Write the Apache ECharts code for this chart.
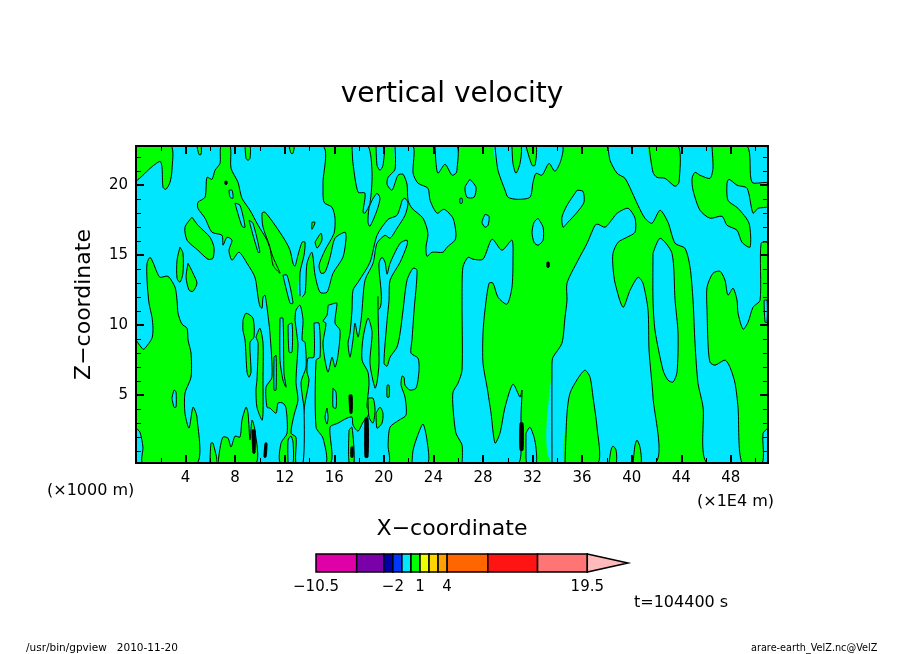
<!DOCTYPE html>
<html>
<head>
<meta charset="utf-8">
<title>vertical velocity</title>
<script src="https://cdn.jsdelivr.net/npm/echarts@6/dist/echarts.min.js"></script>
<style>
  html, body { margin: 0; padding: 0; background: #fff; }
  #chart { width: 904px; height: 654px; }
</style>
</head>
<body>
<div id="chart"></div>
<script>
// contour outlines of the zero line: [x (1E4 m), z (1000 m)]
const plotBox = [[0,0.15],[51,0.15],[51,22.8],[0,22.8]];
const cyanMain = [[0,22.8],[15.01,22.8],[15.09,20.14],[15.17,18.78],[15.82,18.42],[16.06,17.64],[15.98,16.56],[15.25,15.35],[14.77,14.28],[14.93,13.71],[15.25,13.78],[15.66,14.85],[16.06,16.21],[16.87,16.64],[16.95,16.21],[16.7,14.85],[15.9,13.71],[15.41,12.35],[14.85,12.35],[14.45,13.57],[14.2,15.21],[13.8,14.42],[13.64,12.28],[13.24,11.78],[13.24,0.15],[0,0.15]];
const greenCorner = [[0,20.28],[0.56,20.71],[1.13,21.2],[1.94,21.7],[2.1,21.28],[2.18,19.85],[2.42,19.71],[2.74,20.2],[2.9,21.06],[2.82,22.8],[0,22.8]];
const greenBand = [[0,8.93],[0.56,8.28],[0.73,8.35],[1.29,9.07],[1.37,9.78],[1.29,10.57],[1.05,11.57],[0.89,13.21],[0.89,14.42],[1.13,14.85],[1.37,14.49],[1.69,13.78],[1.94,13.42],[2.58,13.49],[3.15,12.71],[3.31,11.78],[3.39,10.85],[3.71,10.07],[4.12,9.78],[4.2,8.93],[4.44,8],[4.44,6.28],[3.95,5.14],[3.95,3.71],[4.28,2.64],[4.6,4.14],[4.92,3.43],[4.92,0.15],[0.56,0.15],[0.56,1.29],[0.32,2.36],[0,2.71]];
const bandSlit = [[2.9,4.78],[3.07,5.36],[3.23,5.21],[3.23,4.14],[3.07,4.14]];
const islandA = [[3.55,15.57],[3.79,15.14],[3.79,13.71],[3.55,13.07],[3.31,13.35],[3.31,14.64]];
const islandB = [[4.2,14.42],[4.6,13.71],[4.92,13],[4.6,12.42],[4.28,12.5],[4.04,13.42]];
const islandC = [[4.52,17.71],[5,17.14],[5.97,16.28],[6.29,15.57],[6.21,14.78],[5.81,14.71],[5,15.35],[4.12,16.07],[3.95,17]];
const islandD = [[8.63,10.35],[8.88,10.85],[9.44,10.5],[9.52,9.14],[9.2,8.78],[9.28,6.64],[9.12,6.28],[8.96,6.64],[8.8,8.93],[8.63,9.64]];
const islandE = [[9.68,9.14],[10,9.78],[10.25,8.71],[10.25,6.07],[10.25,3.71],[10.17,3.21],[9.76,4.14],[9.68,5.36],[9.76,6.07],[9.85,8.71]];
const tabA = [[4.92,22.8],[5.08,22.2],[5.25,22.2],[5.25,22.8]];
const tabB = [[8.8,22.8],[8.88,21.92],[9.04,21.78],[9.2,21.92],[9.2,22.8]];
const tabC = [[12.35,22.8],[12.51,22.28],[12.67,22.28],[12.75,22.8]];
const humpA = [[5.97,0.15],[6.05,1.57],[6.21,1.57],[6.54,0.15]];
const humpB = [[6.62,0.15],[6.78,1.21],[7.02,2],[7.42,1.93],[7.67,1.29],[7.99,2.07],[8.39,2],[8.55,3.21],[8.88,4.14],[9.04,3.71],[9.2,1.79],[9.36,3.21],[9.6,2.5],[9.68,0.15]];
const cyanMid = [[13.24,0.15],[13.24,11.07],[19.53,11.07],[19.61,14.42],[19.85,14.85],[20.1,14.49],[20.26,13.64],[20.5,14.42],[21.31,15.85],[21.87,16.07],[21.87,15.71],[21.31,14.49],[20.5,13.21],[20.42,11.78],[20.26,10.35],[20.01,7.28],[20.26,7.07],[20.5,7.71],[21.06,8.43],[21.31,9.43],[21.55,11.07],[21.87,13.21],[22.36,14.07],[22.68,13.93],[22.44,11.07],[22.27,8.93],[22.19,8],[22.76,7.64],[22.84,6.78],[22.6,5.5],[22.11,5.36],[21.71,5.71],[21.63,6.28],[21.47,6.36],[21.39,5.71],[21.71,4.86],[21.79,3.57],[21.22,3.21],[20.5,2.71],[20.34,1.43],[20.34,0.15]];
const cyanFoot = [[22.27,0.15],[22.36,1.07],[22.68,2],[23.16,2.93],[23.48,1.79],[23.56,0.15]];
const greenCentre = [[19.53,12.07],[19.53,11.07],[19.61,7.28],[19.45,5.93],[19.29,5.5],[18.88,7.28],[19.05,9.5],[18.72,10.5],[18.32,9.07],[18.24,7.5],[18.72,6.64],[18.8,5.71],[18.64,4.14],[18.88,3.78],[18.64,3.43],[18.32,3.07],[17.92,2.43],[17.51,2.86],[17.43,3.43],[17.03,3.36],[16.3,3],[15.66,2.71],[15.66,0.15],[11.7,0.15],[11.7,1.57],[12.19,2.28],[12.11,4.07],[11.86,4.43],[11.46,4.43],[11.3,3.71],[10.81,4.07],[10.57,4.14],[10.49,5.57],[10.97,6.28],[10.81,9.43],[10.57,11.28],[10.49,11.78],[10.41,12.14],[10.25,12],[10.17,11.21],[10,11.35],[9.85,12],[9.6,13.42],[8.96,14.42],[8.31,15.21],[7.75,14.64],[7.5,15.35],[7.75,16.07],[7.34,16.28],[7.02,15.71],[6.94,16.42],[6.13,16.64],[5.57,17.64],[5,18.35],[5,18.78],[5.57,19.14],[5.73,20.56],[6.13,20.42],[6.38,21.07],[6.78,21.56],[6.86,22.8],[7.59,22.8],[7.67,21.21],[8.23,20.21],[8.55,19.07],[9.2,18.21],[9.85,17.14],[10.57,16.07],[11.06,14.85],[11.46,14.07],[11.62,13.71],[11.06,14.28],[10.81,15.57],[10.25,17],[10.17,18],[10.41,18.07],[11.22,17.14],[12.02,16.07],[12.43,15.35],[12.67,14.42],[12.83,14.21],[13.07,15],[13.4,15.93],[13.64,15.93],[13.56,15],[13.24,13.78],[13.24,12.07]];
const lobeA = [[15.5,11.42],[16.06,11.57],[16.22,11.57],[16.06,10.14],[16.46,9.64],[16.3,7.85],[16.06,7],[15.82,7.71],[15.5,6.64],[15.25,7.5],[15.09,8.71],[15.33,10.14],[15.09,10.28],[15.41,10.71]];
const lobeB = [[21.47,18.92],[21.06,17.85],[20.34,17.56],[19.45,16.42],[18.88,14.49],[17.92,13.07],[17.51,12.5],[17.43,11.07],[17.27,9.43],[17.11,8.71],[17.27,7.71],[17.51,8.93],[17.67,10.14],[17.92,9.14],[18.16,10.35],[18.24,11.07],[18.48,13.21],[19.13,14.42],[19.45,15.85],[20.1,16.42],[20.5,16.21],[21.06,16.92],[21.71,17.85],[21.95,18.71],[21.71,19.07]];
const slotA = [[14.36,10.14],[14.77,10.14],[14.85,7.71],[14.53,7.5],[14.53,2.71],[15.09,1.93],[15.33,0.15],[13.48,0.15],[13.56,3.93],[13.96,6.07],[13.8,6.64],[13.88,7.64],[14.36,7.71]];
const slotB = [[12.83,10.35],[12.91,11.07],[13.24,11.42],[13.48,10.35],[13.4,8.93],[13.64,8.78],[13.72,7],[13.32,5.93],[13.56,3.93],[13.48,0.15],[12.91,0.15],[12.91,2],[12.51,2.28],[12.75,3.57],[13.07,4.64],[12.91,5.93],[13.07,8.57],[12.99,9.28]];
const slits = [
  [[11.62,10.5],[11.86,10.5],[11.94,6.57],[12.11,5.57],[11.86,6.07],[11.62,7.5]],
  [[12.27,10],[12.59,10.14],[12.59,8.07],[12.35,8.07]],
  [[11.14,7.71],[11.3,7.85],[11.3,5.36],[11.14,5.36]],
  [[11.86,13.57],[12.19,13.57],[12.67,11.57],[12.43,11.57]],
  [[7.99,18.71],[8.39,18.57],[8.8,17],[8.55,17.07]],
  [[9.12,17.49],[9.44,17.28],[10,15.21],[9.85,15.21]],
  [[7.5,19.64],[7.75,19.64],[7.83,19.07],[7.59,19.14]],
  [[12.27,0.15],[12.27,1.79],[12.51,2.07],[12.67,1.64],[12.67,0.15]],
  [[15.41,4.07],[15.5,3.43],[15.41,2.93],[15.25,3.43]],
  [[15.9,5.5],[16.14,5.21],[16.14,4.07],[15.9,4.14]]
];
const specks = [
  [[18.72,4.78],[19.13,4.78],[19.29,3.93],[19.13,3],[18.8,3.43]],
  [[19.37,3.71],[19.69,4.14],[19.93,3.71],[19.85,3],[19.45,2.64]],
  [[20.26,5.71],[20.42,5.71],[20.42,4.86],[20.26,4.86]],
  [[17.19,2.5],[17.43,2.71],[17.6,0.21],[17.19,0.21]],
  [[14.2,17.35],[14.45,17.35],[14.2,16.85]],
  [[14.45,15.93],[14.93,16.57],[15,16.07],[14.61,15.5]]
];
const fingerA = [[17.43,22.8],[17.51,21.56],[17.92,19.5],[18.48,19.43],[18.32,18.07],[18.48,18],[18.88,18.71],[19.05,20.85],[18.72,22.8]];
const fingerB = [[19.37,22.8],[19.45,21.42],[19.69,21.06],[19.93,21.42],[20.01,22.8]];
const fingerC = [[24.13,22.8],[24.21,21.56],[24.37,20.85],[24.94,21.49],[25.5,20.71],[25.82,20.85],[25.9,21.06],[25.9,22.8]];
const cyanArm = [[20.9,22.8],[20.9,21.13],[20.34,20.56],[20.26,20.06],[20.66,19.64],[21.14,20.71],[21.55,20.78],[21.87,20.06],[21.95,18.92],[22.27,18.35],[23.16,17.64],[23.56,16.56],[23.4,15.57],[23.48,14.92],[23.89,15.21],[24.77,15.21],[25.1,15.57],[25.74,16.07],[25.82,16.56],[25.58,17.64],[24.86,18.28],[24.29,18],[23.73,18.92],[23.56,19.78],[22.76,20.14],[22.36,20.85],[22.36,22.8]];
const cyanTop = [[28.97,22.8],[29.21,21.06],[29.78,19.64],[30.02,19.14],[30.75,18.99],[31.79,19.14],[32.04,20.21],[32.28,20.85],[32.76,20.71],[33.33,21.56],[33.81,20.99],[34.29,21.78],[34.37,22.8]];
const tabD = [[30.34,22.8],[30.42,21.56],[30.66,20.85],[30.99,21.56],[31.07,22.8]];
const tabE = [[31.47,22.8],[31.96,21.42],[32.2,21.42],[32.28,22.8]];
const ovals = [
  [[19.05,18.92],[19.45,19.42],[19.69,19.07],[19.45,18.21],[18.88,17.06],[18.72,17.35],[18.8,18.35]],
  [[26.95,20.42],[27.44,19.85],[27.28,19.14],[26.71,19.14],[26.55,19.85]],
  [[26.15,19.06],[26.31,19.06],[26.31,18.71],[26.15,18.71]],
  [[28.16,17.92],[28.49,17.78],[28.41,17.14],[28.16,17],[27.92,17.35]],
  [[32.44,17.64],[32.85,17],[32.85,16.07],[32.44,15.71],[32.12,15.92],[31.96,16.64],[32.12,17.35]],
  [[35.59,19.64],[36.07,19.56],[36.15,18.78],[35.59,18.06],[34.78,17.28],[34.46,17],[34.37,17.71],[34.78,18.56]]
];
const cyanColumn = [[26.31,0.15],[26.31,1.43],[25.82,2.28],[25.58,4.14],[25.58,5.21],[25.98,5.85],[26.31,6.78],[26.31,11.78],[26.38,14.14],[26.79,14.85],[27.2,14.71],[28,14.71],[28.73,16.14],[29.53,15.35],[30.34,16.07],[30.42,14.64],[30.34,12.71],[29.94,11.5],[29.21,12],[28.81,13],[28.49,13],[28.16,11.07],[28,9.43],[28,7.28],[28.33,5.57],[28.65,3.71],[28.97,1.57],[29.37,2.28],[29.78,4.14],[30.42,5.78],[30.99,4.86],[31.15,5.36],[31.07,3.57],[31.07,0.93],[30.83,0.15]];
const cyanNub = [[31.47,2.28],[31.79,2.71],[32.12,2],[32.28,1.21],[32.28,0.15],[31.55,0.15],[31.47,1.07]];
const cyanRight = [[33.57,0.15],[33.57,7.28],[33.65,7.71],[34.37,8.71],[34.62,10.57],[34.78,11.78],[34.78,13],[35.67,14.64],[36.4,15.85],[37.04,17.14],[37.28,17.21],[37.85,17],[38.49,17.64],[38.82,18],[39.7,18.35],[40.27,17.64],[40.27,16.64],[39.62,16.28],[38.9,15.92],[38.49,15.14],[38.49,14.14],[38.66,13],[39.3,11.28],[39.87,12.5],[40.51,13.42],[40.91,13],[41.32,11.07],[41.4,8.21],[41.72,4.86],[41.88,0.15]];
const humpC = [[34.62,0.15],[34.78,3.71],[35.02,5.14],[35.67,6.21],[36.23,6.78],[36.64,6.28],[36.88,4.86],[37.2,2.71],[37.28,0.15]];
const humpD = [[38.17,0.15],[38.33,1.07],[38.49,1.36],[38.74,1.07],[38.74,0.15]];
const humpE = [[40.11,0.15],[40.27,1.43],[40.43,1.78],[40.67,1.29],[40.75,0.15]];
const cyanLobe = [[41.72,15.14],[42.29,16.21],[43.25,15.14],[43.5,11.78],[43.74,9.43],[43.66,6.64],[43.34,5.93],[42.93,6.07],[42.53,6.78],[41.88,9.64],[41.72,11.78]];
const cyanFar = [[38.09,22.8],[51,22.8],[51,0.15],[46.08,0.15],[45.76,4.14],[45.35,5.85],[45.11,8.71],[44.95,11.78],[44.71,14.14],[44.3,15.49],[43.5,15.85],[42.93,17.35],[42.29,18.21],[41.64,17.28],[41.07,17.64],[40.51,18.56],[40.03,19.49],[39.46,20.49],[38.82,20.85],[38.25,21.78]];
const greenTab = [[41.4,22.8],[41.72,20.92],[42.04,20.56],[42.69,20.49],[43.5,19.92],[43.82,20.21],[43.74,22.8]];
const greenUpper = [[46.48,22.8],[46.56,21.21],[46.32,20.49],[45.51,20.71],[45.11,20.92],[44.87,20.49],[44.95,19.64],[45.51,18.21],[46.32,17.64],[47.29,17.78],[47.69,17.14],[48.5,16.78],[48.9,15.92],[49.55,15.57],[49.47,17.28],[48.58,18.35],[47.77,18.92],[47.69,20.14],[47.85,20.42],[48.5,20],[49.31,19.78],[49.79,18],[50.2,18.35],[51,18.5],[51,20.14],[49.71,20.21],[49.31,22.8]];
const greenLower = [[46.08,11.07],[46.08,12.71],[46.56,13.71],[47.13,13.85],[47.53,13.21],[47.77,12.14],[48.18,12.64],[48.5,11.78],[48.58,10.85],[48.99,9.71],[49.39,10.21],[49.79,11.28],[50.36,11.78],[50.44,15.85],[51,15.85],[51,2.71],[50.6,2.28],[50.52,0.15],[48.9,0.15],[48.58,4.14],[48.34,5.85],[47.93,7],[47.53,7.5],[46.72,7.14],[46.32,7.35],[46.16,8.71]];
const edgeTip = [[50.68,11.78],[50.92,11.78],[50.92,10.21],[50.76,10.21]];
// tightly packed contours that print as solid dark streaks
const denseStreaks = [
  [[9.36,2.5],[9.6,2.5],[9.6,0.86],[9.44,0.86]],
  [[10.41,1.57],[10.57,1.57],[10.49,0.57],[10.33,0.57]],
  [[17.19,5],[17.43,5],[17.43,3.71],[17.27,3.71]],
  [[18.48,3.36],[18.72,3.36],[18.72,0.57],[18.48,0.57]],
  [[17.35,1.29],[17.51,1.29],[17.51,0.57],[17.35,0.57]],
  [[30.99,3],[31.23,3],[31.23,1.07],[30.99,1.07]],
  [[7.18,20.28],[7.34,20.28],[7.34,20.07],[7.18,20.07]],
  [[33.17,14.5],[33.33,14.5],[33.33,14.14],[33.17,14.14]]
];

// colour bar
const barLevels = [-10.5, -6, -3, -2, -1, 0, 1, 2, 3, 4, 8.5, 14, 19.5];
const barColors = ['#e000a8', '#7a00aa', '#0000aa', '#0038ff', '#00e6ff', '#00ff00', '#eeff00', '#ffd500', '#ffa200', '#ff6600', '#ff1414', '#ff7474'];
const barTipEnd = 24;
const barTipColor = '#ffbbbb';
const barLabels = [-10.5, -2, 1, 4, 19.5];

// ticks
const xMajor = [4, 8, 12, 16, 20, 24, 28, 32, 36, 40, 44, 48];
const xMinor = [2, 6, 10, 14, 18, 22, 26, 30, 34, 38, 42, 46, 50];
const zMajor = [5, 10, 15, 20];
const zMinor = [1, 2, 3, 4, 6, 7, 8, 9, 11, 12, 13, 14, 16, 17, 18, 19, 21, 22];

const GREEN = '#00ff00', CYAN = '#00e6ff', FONT = '"DejaVu Sans"';

// painted in this order, later ones lie over earlier ones
const layers = [
  [plotBox, GREEN],
  [cyanMain, CYAN], [greenCorner, GREEN], [greenBand, GREEN], [bandSlit, CYAN],
  [islandA, GREEN], [islandB, GREEN], [islandC, GREEN], [islandD, GREEN], [islandE, GREEN],
  [tabA, GREEN], [tabB, GREEN], [tabC, GREEN], [humpA, GREEN], [humpB, GREEN],
  [cyanMid, CYAN], [cyanFoot, CYAN], [greenCentre, GREEN, true],
  [lobeA, CYAN], [lobeB, CYAN], [slotA, CYAN], [slotB, CYAN]
];
slits.forEach(s => layers.push([s, CYAN]));
specks.forEach(s => layers.push([s, GREEN]));
[fingerA, fingerB, fingerC, cyanArm, cyanTop].forEach(s => layers.push([s, CYAN]));
[tabD, tabE].forEach(s => layers.push([s, GREEN]));
ovals.forEach(s => layers.push([s, CYAN]));
[cyanColumn, cyanNub, cyanRight].forEach(s => layers.push([s, CYAN]));
[humpC, humpD, humpE].forEach(s => layers.push([s, GREEN]));
[cyanLobe, cyanFar].forEach(s => layers.push([s, CYAN]));
[greenTab, greenUpper, greenLower].forEach(s => layers.push([s, GREEN]));
layers.push([edgeTip, CYAN]);
denseStreaks.forEach(s => layers.push([s, '#000']));

function renderRegion(params, api) {
  const layer = layers[params.dataIndex];
  const pts = layer[0].map(p => api.coord(p));
  const curve = params.dataIndex === 0 ? 0 : 0.25;
  const line = layer[2] ? pts : pts.concat([pts[0]]);
  return {
    type: 'group',
    children: [
      { type: 'polygon', shape: { points: pts, smooth: curve }, style: { fill: layer[1] } },
      { type: 'polyline', shape: { points: line, smooth: curve }, style: { fill: null, stroke: '#000', lineWidth: 1 } }
    ]
  };
}

function renderBar(params, api) {
  const i = params.dataIndex;
  if (i === barColors.length) {
    const tip = [[barLevels[i], 1], [barTipEnd, 0.5], [barLevels[i], 0]].map(p => api.coord(p));
    return { type: 'polygon', shape: { points: tip }, style: { fill: barTipColor, stroke: '#000', lineWidth: 1.5 } };
  }
  const a = api.coord([barLevels[i], 1]);
  const b = api.coord([barLevels[i + 1], 0]);
  return {
    type: 'rect',
    shape: { x: a[0], y: a[1], width: b[0] - a[0], height: b[1] - a[1] },
    style: { fill: barColors[i], stroke: '#000', lineWidth: 1.5 }
  };
}

function frameAxis(position, ticks, len, width, extra) {
  const horizontal = position === 'bottom' || position === 'top';
  return Object.assign({
    type: 'value', gridIndex: 0, position: position, z: 10,
    min: horizontal ? 0 : 0.15,
    max: horizontal ? 51 : 22.8,
    splitLine: { show: false },
    axisLine: { onZero: false, lineStyle: { color: '#000', width: 2 } },
    axisTick: { inside: true, length: len, customValues: ticks, lineStyle: { color: '#000', width: width } },
    axisLabel: { show: false }
  }, extra);
}

const labelStyle = { show: true, color: '#000', fontFamily: FONT, fontSize: 15 };

const chart = echarts.init(document.getElementById('chart'));
chart.setOption({
  animation: false,
  backgroundColor: '#fff',
  title: {
    text: 'vertical velocity', left: 'center', top: 76,
    textStyle: { color: '#000', fontFamily: FONT, fontWeight: 'normal', fontSize: 28 }
  },
  grid: [
    { left: 136, right: 136, top: 146, bottom: 191 },
    { left: 316, width: 312, top: 554, height: 18 }
  ],
  xAxis: [
    frameAxis('bottom', xMajor, 8, 2, {
      axisLabel: Object.assign({ customValues: xMajor, margin: 8 }, labelStyle),
      name: 'X\u2212coordinate', nameLocation: 'middle', nameGap: 55,
      nameTextStyle: { color: '#000', fontFamily: FONT, fontSize: 22 }
    }),
    frameAxis('bottom', xMinor, 5, 1),
    frameAxis('top', xMajor, 8, 2),
    frameAxis('top', xMinor, 5, 1),
    {
      type: 'value', gridIndex: 1, min: -10.5, max: barTipEnd,
      splitLine: { show: false }, axisLine: { show: false }, axisTick: { show: false },
      axisLabel: Object.assign({
        customValues: barLabels, margin: 8,
        formatter: v => String(v).replace('-', '\u2212')
      }, labelStyle)
    }
  ],
  yAxis: [
    frameAxis('left', zMajor, 8, 2, {
      axisLabel: Object.assign({ customValues: zMajor, margin: 8 }, labelStyle),
      name: 'Z\u2212coordinate', nameLocation: 'middle', nameGap: 41, nameRotate: 90,
      nameTextStyle: { color: '#000', fontFamily: FONT, fontSize: 22 }
    }),
    frameAxis('left', zMinor, 5, 1),
    frameAxis('right', zMajor, 8, 2),
    frameAxis('right', zMinor, 5, 1),
    { type: 'value', gridIndex: 1, min: 0, max: 1, show: false }
  ],
  series: [
    {
      type: 'custom', xAxisIndex: 0, yAxisIndex: 0, clip: true, silent: true,
      coordinateSystem: 'cartesian2d',
      data: layers.map((l, i) => [i]),
      encode: { x: 0, y: 0 },
      renderItem: renderRegion
    },
    {
      type: 'custom', xAxisIndex: 4, yAxisIndex: 4, clip: false, silent: true,
      coordinateSystem: 'cartesian2d',
      data: barLevels.map((v, i) => [v, i]),
      encode: { x: 0 },
      renderItem: renderBar
    }
  ],
  graphic: [
    { type: 'text', left: 47, top: 483, style: { text: '(\u00d71000 m)', fill: '#000', font: '16px ' + FONT } },
    { type: 'text', left: 697, top: 494, style: { text: '(\u00d71E4 m)', fill: '#000', font: '16px ' + FONT } },
    { type: 'text', left: 634, top: 595, style: { text: 't=104400 s', fill: '#000', font: '16px ' + FONT } },
    { type: 'text', left: 26, top: 643, style: { text: '/usr/bin/gpview   2010-11-20', fill: '#000', font: '10.5px ' + FONT } },
    { type: 'text', left: 751, top: 643, style: { text: 'arare-earth_VelZ.nc@VelZ', fill: '#000', font: '9.7px ' + FONT } }
  ]
});
</script>
</body>
</html>
